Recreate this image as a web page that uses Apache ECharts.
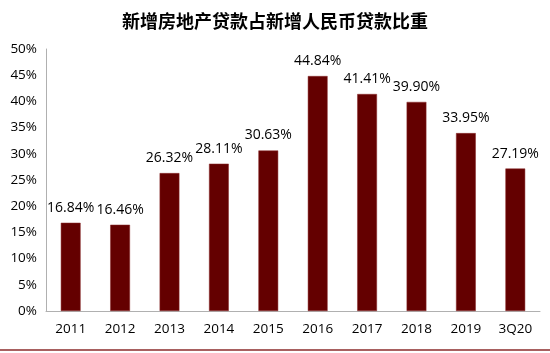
<!DOCTYPE html>
<html lang="zh">
  <head>
    <meta charset="UTF-8" />
    <title>新增房地产贷款占新增人民币贷款比重</title>
    <script src="https://cdn.jsdelivr.net/npm/echarts@6/dist/echarts.min.js"></script>
    <style>
      * {
        margin: 0;
        padding: 0;
      }
      body {
        background: #fff;
      }
    </style>
  </head>
  <body>
    <div id="main" style="width: 550px; height: 353px"></div>
    <script>
      var years = ['2011', '2012', '2013', '2014', '2015', '2016', '2017', '2018', '2019', '3Q20'];
      var share = [16.84, 16.46, 26.32, 28.11, 30.63, 44.84, 41.41, 39.9, 33.95, 27.19];

      var myChart = echarts.init(document.getElementById('main'));
      myChart.setOption({
        animation: false,
        title: {
          text: '新增房地产贷款占新增人民币贷款比重',
          left: 'center',
          top: 7,
          textStyle: {
            fontFamily: 'Noto Sans CJK SC',
            fontSize: 18,
            fontWeight: 'bold',
            color: '#000'
          }
        },
        grid: { left: 46, right: 10, top: 49, bottom: 42 },
        xAxis: {
          type: 'category',
          data: years,
          axisLine: { lineStyle: { color: '#b0b0b0' } },
          axisTick: { lineStyle: { color: '#b0b0b0' }, length: 5 },
          axisLabel: { color: '#000', fontSize: 13.5, margin: 11, fontFamily: 'Open Sans' }
        },
        yAxis: {
          type: 'value',
          min: 0,
          max: 50,
          interval: 5,
          splitLine: { show: false },
          axisLine: { show: true, lineStyle: { color: '#b0b0b0' } },
          axisTick: { show: false },
          axisLabel: {
            color: '#000',
            fontSize: 13.5,
            margin: 9,
            fontFamily: 'Open Sans',
            formatter: '{value}%'
          }
        },
        series: [
          {
            type: 'bar',
            data: share,
            barWidth: '40%',
            itemStyle: { color: '#640000', borderColor: '#8a2a2a', borderWidth: 0.5 },
            label: {
              show: true,
              position: 'top',
              distance: 8,
              color: '#000',
              fontSize: 14,
              fontFamily: 'Open Sans',
              formatter: function (p) {
                return p.value.toFixed(2) + '%';
              }
            }
          }
        ],
        graphic: [
          {
            type: 'line',
            shape: { x1: 0, y1: 350, x2: 550, y2: 350 },
            style: { stroke: '#8b2b2b', lineWidth: 1.5 }
          }
        ]
      });
    </script>
  </body>
</html>
